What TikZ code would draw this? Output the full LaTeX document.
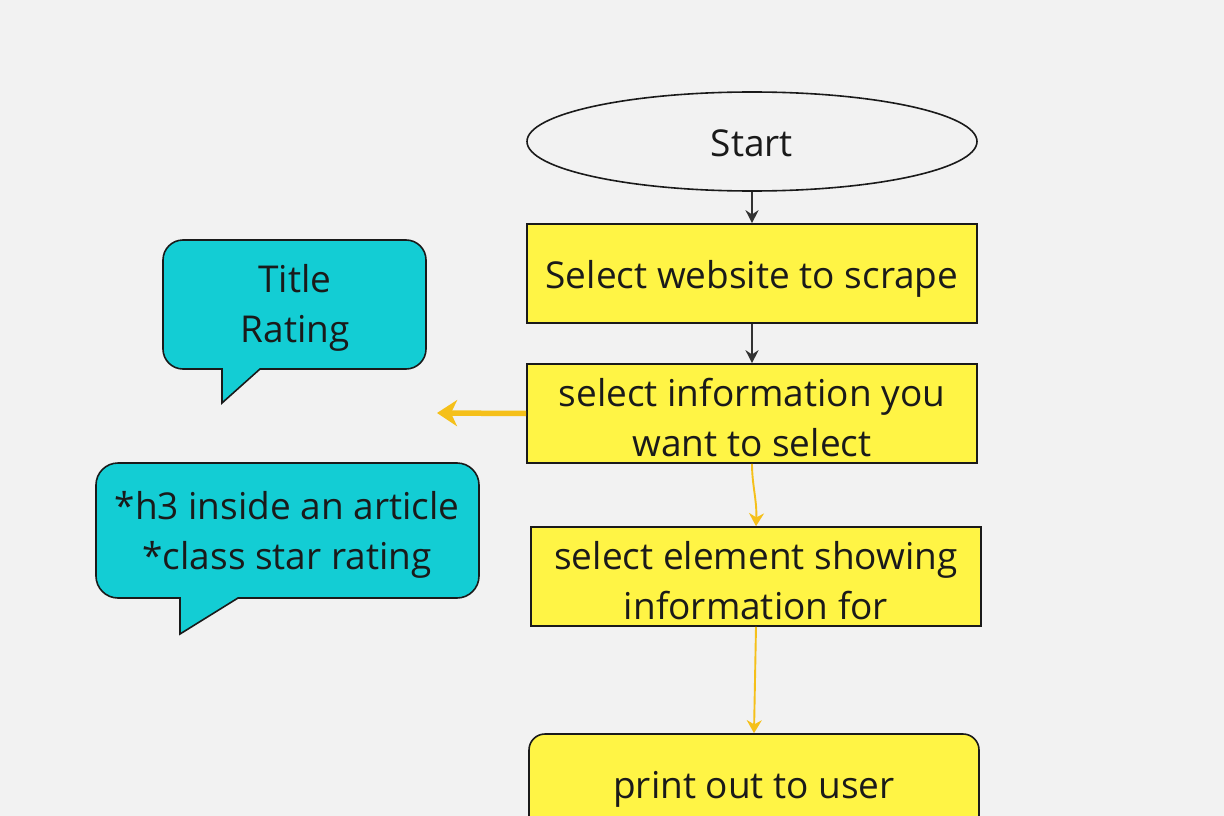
\documentclass[tikz,border=0pt]{standalone}
\usepackage{fontspec}
\setmainfont{Open Sans}
\usetikzlibrary{arrows.meta,shapes.geometric}
\definecolor{bg}{HTML}{F2F2F2}
\definecolor{boxy}{HTML}{FFF445}
\definecolor{cyanc}{HTML}{13CDD4}
\definecolor{arry}{HTML}{F5C01A}
\definecolor{ink}{HTML}{1A1A1A}
\definecolor{darkarr}{HTML}{333333}
\tikzset{
  txt/.style={font=\fontsize{37}{50}\selectfont, text=ink, align=center},
  oneline/.style={text height=29pt, text depth=0pt},
  twoline/.style={text height=86pt, text depth=0pt},
  flowbox/.style={txt, draw=ink, line width=1.6pt, fill=boxy, minimum width=450pt, minimum height=99pt, inner sep=0pt},
  startshape/.style={txt, ellipse, draw=ink, line width=1.6pt, fill=bg, minimum width=450pt, minimum height=99pt, inner sep=0pt},
  callout/.style={draw=ink, line width=1.6pt, fill=cyanc},
  darkarrow/.style={draw=darkarr, line width=1.7pt, -{Stealth[length=13pt,width=13pt]}},
  yarrow/.style={draw=arry, line width=1.9pt, -{Stealth[length=13pt,width=15pt]}},
  bigyarrow/.style={draw=arry, line width=5.5pt, -{Stealth[length=20pt,width=26pt,inset=6pt]}},
}
\begin{document}
\begin{tikzpicture}[x=1pt,y=-1pt]
\fill[bg] (0,0) rectangle (1224,816);
\useasboundingbox (0,0) rectangle (1224,816);

\node[startshape, oneline] (start) at (752,141.5) {Start};
\node[flowbox, oneline] (b1) at (752,273.5) {Select website to scrape};
\node[flowbox, twoline] (b2) at (752,413.5) {select information you\\want to select};
\node[flowbox, twoline] (b3) at (756,576.5) {select element showing\\information for};
\node[flowbox, oneline, rounded corners=16pt] (b4) at (754,783.5) {print out to user};

% callouts
\draw[callout] (222,369) [rounded corners=20pt] -- (163,369) -- (163,240) -- (426,240) -- (426,369) [sharp corners] -- (260,369) -- (222,403) -- cycle;
\node[txt] (c1) at (295,308) {Title\\Rating};
\draw[callout] (180,598) [rounded corners=22pt] -- (96,598) -- (96,463) -- (479,463) -- (479,598) [sharp corners] -- (238,598) -- (180,634) -- cycle;
\node[txt] (c2) at (287,535) {*h3 inside an article\\*class star rating};

\coordinate (ytip) at (437,413);

\draw[darkarrow] (start.south) -- (b1.north);
\draw[darkarrow] (b1.south) -- (b2.north);
\draw[bigyarrow] (b2.west) -- (ytip);
\draw[yarrow] (b2.south) .. controls (752,485) and (757,500) .. ([xshift=4pt]b2.south |- b3.north);
\draw[yarrow] (b3.south) -- ([xshift=-2pt]b3.south |- b4.north);
\end{tikzpicture}
\end{document}
